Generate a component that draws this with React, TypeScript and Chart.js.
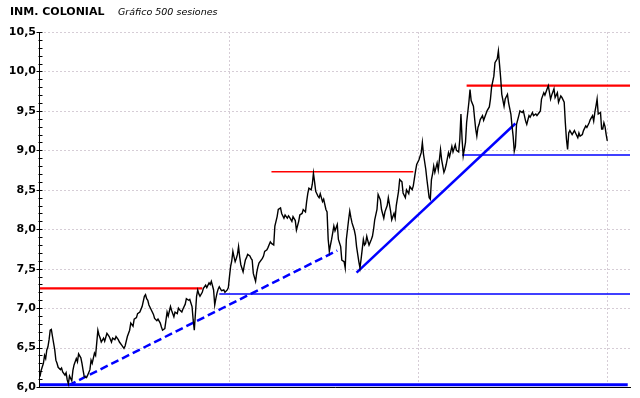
import React, { useEffect, useRef } from "react";
import { Chart, registerables } from "chart.js";

Chart.register(...registerables);

const title = "INM. COLONIAL";
const subtitle = "Gráfico 500 sesiones";

// session index (0..500) and closing price
const sessions = [
  0, 1, 3, 4, 5, 6, 7, 8, 9, 10, 11, 13, 14, 15, 16, 18, 19, 20, 22, 23, 24, 25, 26, 28, 29, 30, 32, 33, 34, 36,
  37, 38, 39, 41, 42, 44, 45, 46, 48, 49, 50, 51, 52, 53, 54, 56, 57, 58, 59, 61, 63, 64, 66, 67, 69, 70, 72, 74, 75, 77,
  79, 80, 82, 83, 85, 86, 88, 90, 92, 93, 94, 95, 96, 98, 100, 101, 103, 104, 106, 107, 108, 110, 112, 113, 115, 116, 118, 119, 121, 122,
  123, 125, 126, 128, 129, 131, 132, 134, 135, 136, 138, 139, 140, 141, 143, 144, 146, 147, 149, 150, 151, 153, 154, 155, 156, 157, 158, 160, 162, 163,
  165, 166, 167, 168, 169, 170, 171, 172, 173, 174, 175, 176, 177, 179, 180, 181, 182, 183, 185, 186, 187, 188, 190, 191, 192, 193, 196, 197, 198, 200,
  201, 203, 204, 206, 207, 209, 210, 212, 213, 215, 216, 218, 219, 220, 222, 223, 225, 226, 228, 229, 231, 232, 234, 235, 236, 237, 239, 240, 241, 242,
  243, 244, 245, 246, 247, 249, 250, 252, 253, 254, 255, 256, 257, 259, 260, 262, 263, 265, 266, 268, 269, 270, 272, 273, 274, 275, 277, 278, 279, 281,
  282, 283, 285, 286, 287, 288, 289, 290, 292, 293, 294, 295, 297, 298, 300, 301, 303, 304, 306, 307, 309, 310, 312, 313, 314, 316, 317, 319, 320, 322,
  323, 325, 326, 328, 329, 331, 332, 334, 336, 337, 338, 340, 341, 343, 344, 345, 346, 347, 348, 350, 351, 353, 354, 356, 357, 358, 360, 361, 363, 364,
  366, 367, 369, 370, 371, 372, 373, 375, 376, 378, 379, 380, 382, 383, 384, 385, 386, 387, 388, 390, 391, 393, 394, 396, 397, 398, 400, 401, 403, 404,
  405, 406, 407, 409, 410, 412, 413, 415, 416, 417, 418, 419, 420, 422, 423, 425, 426, 428, 429, 431, 432, 434, 435, 437, 438, 440, 441, 442, 444, 445,
  447, 448, 450, 451, 453, 454, 456, 457, 459, 460, 462, 463, 464, 465, 466, 467, 469, 471, 472, 474, 475, 476, 478, 479, 481, 482, 484, 485, 487, 488,
  489, 490, 491, 492, 494, 495, 496, 497, 498, 499, 500,
];

const closes = [
  6.13, 6.21, 6.30, 6.40, 6.36, 6.47, 6.51, 6.60, 6.72, 6.73, 6.64, 6.47, 6.34, 6.30, 6.25, 6.22, 6.24, 6.19, 6.15, 6.18, 6.09, 6.04, 6.14, 6.08, 6.21, 6.28, 6.36, 6.32, 6.42, 6.37,
  6.30, 6.21, 6.13, 6.12, 6.15, 6.22, 6.34, 6.30, 6.43, 6.40, 6.56, 6.72, 6.66, 6.62, 6.57, 6.62, 6.58, 6.63, 6.68, 6.64, 6.57, 6.62, 6.60, 6.64, 6.60, 6.57, 6.53, 6.49, 6.52, 6.64,
  6.72, 6.81, 6.77, 6.86, 6.88, 6.93, 6.95, 7.02, 7.15, 7.17, 7.12, 7.10, 7.04, 6.98, 6.92, 6.87, 6.84, 6.86, 6.81, 6.76, 6.72, 6.74, 6.95, 6.90, 7.02, 6.97, 6.89, 6.95, 6.93, 7.00,
  6.98, 6.95, 6.99, 7.05, 7.12, 7.10, 7.11, 7.02, 6.85, 6.72, 7.15, 7.23, 7.18, 7.15, 7.20, 7.25, 7.29, 7.26, 7.32, 7.30, 7.34, 7.23, 7.04, 7.12, 7.19, 7.24, 7.27, 7.22, 7.23, 7.20,
  7.23, 7.26, 7.40, 7.53, 7.60, 7.72, 7.65, 7.59, 7.63, 7.68, 7.78, 7.65, 7.55, 7.46, 7.54, 7.61, 7.64, 7.68, 7.66, 7.63, 7.61, 7.44, 7.34, 7.45, 7.52, 7.57, 7.63, 7.66, 7.72, 7.74,
  7.77, 7.84, 7.82, 7.80, 8.04, 8.16, 8.25, 8.27, 8.20, 8.14, 8.18, 8.14, 8.17, 8.15, 8.10, 8.16, 8.11, 7.99, 8.10, 8.18, 8.20, 8.25, 8.22, 8.35, 8.45, 8.52, 8.50, 8.57, 8.71, 8.60,
  8.48, 8.45, 8.42, 8.40, 8.45, 8.35, 8.38, 8.25, 8.22, 7.87, 7.72, 7.80, 7.87, 8.04, 7.98, 8.06, 7.87, 7.78, 7.61, 7.59, 7.51, 7.87, 8.12, 8.23, 8.15, 8.08, 7.99, 7.92, 7.78, 7.59,
  7.51, 7.62, 7.87, 7.80, 7.82, 7.91, 7.85, 7.80, 7.87, 7.91, 8.00, 8.12, 8.25, 8.44, 8.37, 8.25, 8.14, 8.22, 8.30, 8.40, 8.23, 8.12, 8.20, 8.14, 8.30, 8.48, 8.63, 8.60, 8.46, 8.40,
  8.50, 8.45, 8.54, 8.50, 8.55, 8.74, 8.82, 8.88, 8.97, 9.10, 8.95, 8.76, 8.63, 8.40, 8.38, 8.63, 8.70, 8.80, 8.72, 8.84, 8.75, 9.01, 8.88, 8.72, 8.76, 8.82, 8.97, 8.92, 9.05, 8.98,
  9.07, 9.00, 8.98, 9.14, 9.46, 9.14, 8.93, 9.10, 9.35, 9.61, 9.77, 9.63, 9.56, 9.41, 9.27, 9.18, 9.29, 9.33, 9.39, 9.44, 9.38, 9.46, 9.50, 9.55, 9.65, 9.80, 9.94, 10.11, 10.16, 10.26,
  10.09, 9.92, 9.71, 9.56, 9.65, 9.71, 9.60, 9.46, 9.31, 9.18, 8.99, 9.05, 9.33, 9.44, 9.50, 9.48, 9.50, 9.37, 9.33, 9.44, 9.42, 9.48, 9.44, 9.46, 9.44, 9.48, 9.50, 9.65, 9.73, 9.70,
  9.78, 9.82, 9.65, 9.70, 9.78, 9.67, 9.73, 9.61, 9.69, 9.67, 9.61, 9.35, 9.14, 9.01, 9.22, 9.25, 9.20, 9.25, 9.22, 9.16, 9.22, 9.18, 9.20, 9.25, 9.31, 9.29, 9.35, 9.39, 9.44, 9.37,
  9.48, 9.56, 9.65, 9.46, 9.48, 9.27, 9.27, 9.35, 9.30, 9.20, 9.12,
];

// horizontal support / resistance levels
const levelStart = [0, 204, 376, 158, 372, 0];
const levelEnd = [143, 329, 520, 520, 520, 518];
const levelValue = [7.25, 8.73, 9.82, 7.18, 8.94, 6.03];

// trend lines (dashed, solid)
const trendStart = [25, 279];
const trendEnd = [262, 419];
const trendFrom = [6.02, 7.45];
const trendTo = [7.73, 9.34];

const yMin = 6;
const yMax = 10.5;
const xMax = 520;
const xGridSessions = [500 / 3, 1000 / 3, 500];

const levelStyles = [
  { color: "#ff0000", width: 2.2 },
  { color: "#ff0000", width: 1.5 },
  { color: "#ff0000", width: 2.4 },
  { color: "#0000ff", width: 1.5 },
  { color: "#0000ff", width: 1.5 },
  { color: "#0000ff", width: 3 },
];
const trendStyles = [
  { color: "#0000ff", width: 2.5, dash: [8, 4] },
  { color: "#0000ff", width: 2.5, dash: [] as number[] },
];

const framePlugin = {
  id: "frame",
  beforeDatasetsDraw(chart: any) {
    const { ctx, chartArea: a, scales } = chart;
    const x = scales.x;
    const y = scales.y;
    ctx.save();
    ctx.strokeStyle = "#d6cdd6";
    ctx.lineWidth = 1;
    ctx.setLineDash([2, 2]);
    for (let v = yMin + 0.5; v <= yMax + 1e-9; v += 0.5) {
      const py = Math.round(y.getPixelForValue(v)) + 0.5;
      ctx.beginPath();
      ctx.moveTo(a.left, py);
      ctx.lineTo(a.right, py);
      ctx.stroke();
    }
    for (const s of xGridSessions) {
      const px = Math.round(x.getPixelForValue(s)) + 0.5;
      ctx.beginPath();
      ctx.moveTo(px, a.top);
      ctx.lineTo(px, a.bottom);
      ctx.stroke();
    }
    ctx.restore();
  },
  afterDatasetsDraw(chart: any) {
    const { ctx, chartArea: a, scales } = chart;
    const y = scales.y;
    ctx.save();
    ctx.strokeStyle = "#000";
    ctx.lineWidth = 1;
    const ax = Math.round(a.left) - 0.5;
    const by = Math.round(a.bottom) + 0.5;
    ctx.beginPath();
    ctx.moveTo(ax, a.top);
    ctx.lineTo(ax, by);
    ctx.moveTo(ax, by);
    ctx.lineTo(a.right + 1, by);
    ctx.stroke();
    for (let i = 0; i <= Math.round((yMax - yMin) * 10); i++) {
      const v = yMin + i * 0.1;
      const py = Math.round(y.getPixelForValue(v)) + 0.5;
      const major = i % 5 === 0;
      ctx.beginPath();
      ctx.moveTo(ax - (major ? 3 : 1), py);
      ctx.lineTo(ax + 3, py);
      ctx.stroke();
    }
    ctx.restore();
  },
  afterDraw(chart: any) {
    const { ctx } = chart;
    ctx.save();
    ctx.fillStyle = "#000";
    ctx.textBaseline = "alphabetic";
    ctx.textAlign = "left";
    ctx.font = "bold 11px 'DejaVu Sans'";
    ctx.fillText(title, 10, 15);
    ctx.font = "italic 9.5px 'DejaVu Sans'";
    ctx.fillText(subtitle, 118, 15);
    ctx.restore();
  },
};

export default function App() {
  const canvasRef = useRef<HTMLCanvasElement | null>(null);

  useEffect(() => {
    document.body.style.margin = "0";
    document.body.style.background = "#fff";
    const canvas = canvasRef.current;
    if (!canvas) return;

    const priceData = sessions.map((s, i) => ({ x: s, y: closes[i] }));

    const datasets: any[] = [
      {
        label: "Cierre",
        data: priceData,
        borderColor: "#000000",
        borderWidth: 1.4,
        pointRadius: 0,
        tension: 0,
        fill: false,
      },
    ];

    levelValue.forEach((v, i) => {
      datasets.push({
        label: "nivel" + i,
        data: [
          { x: levelStart[i], y: v },
          { x: levelEnd[i], y: v },
        ],
        borderColor: levelStyles[i].color,
        borderWidth: levelStyles[i].width,
        pointRadius: 0,
        fill: false,
      });
    });

    trendStart.forEach((s, i) => {
      datasets.push({
        label: "tendencia" + i,
        data: [
          { x: s, y: trendFrom[i] },
          { x: trendEnd[i], y: trendTo[i] },
        ],
        borderColor: trendStyles[i].color,
        borderWidth: trendStyles[i].width,
        borderDash: trendStyles[i].dash,
        pointRadius: 0,
        fill: false,
      });
    });

    const chart = new Chart(canvas, {
      type: "line",
      data: { datasets },
      options: {
        animation: false,
        responsive: false,
        maintainAspectRatio: false,
        events: [],
        layout: { padding: { top: 32, bottom: 11, right: 10, left: 0 } },
        plugins: {
          legend: { display: false },
          tooltip: { enabled: false },
        },
        scales: {
          x: {
            type: "linear",
            min: 0,
            max: xMax,
            display: false,
          },
          y: {
            type: "linear",
            min: yMin,
            max: yMax,
            grid: { display: false, drawTicks: false },
            border: { display: false },
            ticks: {
              stepSize: 0.5,
              padding: 4,
              color: "#000",
              font: { family: "'DejaVu Sans'", size: 11, weight: "bold" },
              callback: (v: any) => Number(v).toFixed(1).replace(".", ","),
            },
            afterFit: (scale: any) => {
              scale.width = 40;
            },
          },
        },
      },
      plugins: [framePlugin],
    });

    return () => chart.destroy();
  }, []);

  return (
    <div style={{ width: 640, height: 398, background: "#fff" }}>
      <canvas ref={canvasRef} width={640} height={398} style={{ display: "block" }} />
    </div>
  );
}
